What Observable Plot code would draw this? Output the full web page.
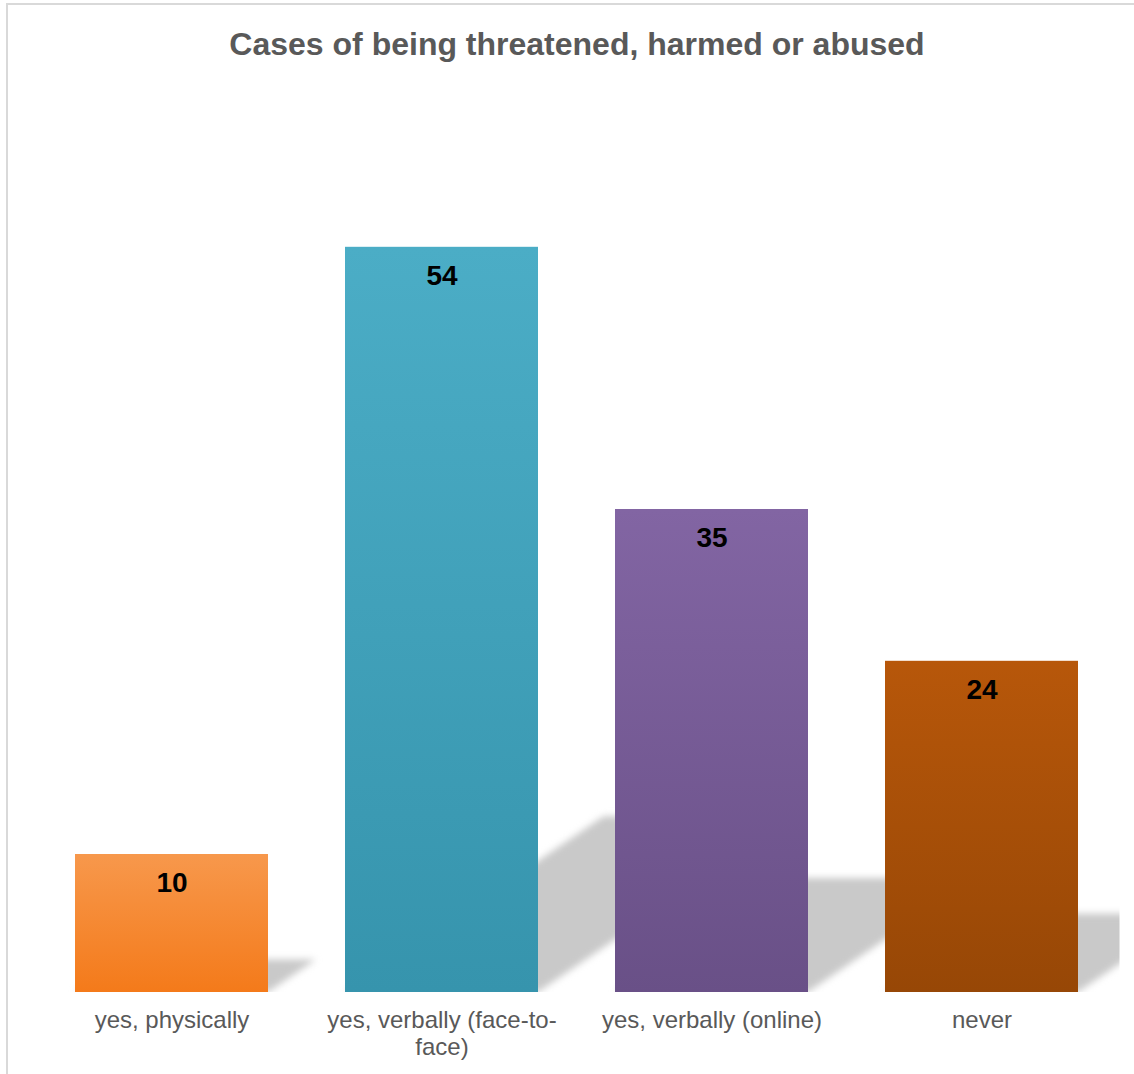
<!DOCTYPE html>
<html>
<head>
<meta charset="utf-8">
<script src="https://cdn.jsdelivr.net/npm/d3@7"></script>
<script src="https://cdn.jsdelivr.net/npm/@observablehq/plot@0.6"></script>
<style>
  html, body { margin: 0; padding: 0; background: #ffffff; width: 1134px; height: 1074px; overflow: hidden; }
  #frame { position: absolute; left: 6px; top: 3px; width: 1300px; height: 1300px; border: 2px solid #d9d9d9; box-sizing: border-box; }
  #title { position: absolute; left: 36.5px; width: 1081px; top: 28px; text-align: center;
           font-family: "Liberation Sans", Arial, sans-serif; font-weight: bold; font-size: 32px; line-height: 32px; color: #595959; }
  #chart { position: absolute; left: 0; top: 80px; }
</style>
</head>
<body>
<div id="frame"></div>
<div id="title">Cases of being threatened, harmed or abused</div>
<div id="chart"></div>
<script>
// ---- data ----
const categories = ["yes, physically", "yes, verbally (face-to-face)", "yes, verbally (online)", "never"];
const values = [10, 54, 35, 24];

// ---- styling ----
const topColors = ["#f7984c", "#4badc6", "#8265a3", "#b7570a"];
const bottomColors = ["#f47a1a", "#3694ad", "#695087", "#974706"];

const data = categories.map((c, i) => ({category: c, value: values[i], fill: `url(#grad${i})`}));

const defsMark = () => {
  const defs = d3.create("svg:defs");
  categories.forEach((c, i) => {
    const g = defs.append("linearGradient").attr("id", `grad${i}`)
      .attr("x1", 0).attr("y1", 0).attr("x2", 0).attr("y2", 1);
    g.append("stop").attr("offset", "0%").attr("stop-color", topColors[i]);
    g.append("stop").attr("offset", "100%").attr("stop-color", bottomColors[i]);
  });
  return defs.node();
};

// perspective shadow behind each bar, computed from the scales
const shadowMark = (index, scales, values_, dims) => {
  const {x, y} = scales;
  const bw = x.bandwidth();
  const g = d3.create("svg:g");
  const cp = g.append("clipPath").attr("id", "shadowclip");
  cp.append("rect")
    .attr("x", dims.marginLeft).attr("y", dims.marginTop)
    .attr("width", dims.width - dims.marginLeft - dims.marginRight + 3)
    .attr("height", dims.height - dims.marginTop - dims.marginBottom);
  const inner = g.append("g").attr("clip-path", "url(#shadowclip)")
    .append("g").style("filter", "blur(3.5px)");
  data.forEach(d => {
    const x0 = x(d.category), x1 = x0 + bw;
    const base = y(0), top = y(d.value);
    const h = base - top;
    const dy = 0.236 * h, dx = dy / 0.68;
    inner.append("path")
      .attr("d", `M${x0},${base}L${x1},${base}L${x1 + dx},${base - dy}L${x0 + dx},${base - dy}Z`)
      .attr("fill", "#c9c9c9");
  });
  return g.node();
};

const chart = Plot.plot({
  width: 1134,
  height: 994,
  marginLeft: 35.5,
  marginRight: 17.5,
  marginTop: 84,
  marginBottom: 82,
  x: {domain: categories, paddingInner: 0.286, paddingOuter: 0.143, label: null},
  y: {domain: [0, 60], axis: null},
  color: {type: "identity"},
  style: {fontFamily: "'Liberation Sans', Arial, sans-serif", background: "transparent", overflow: "visible"},
  marks: [
    defsMark,
    shadowMark,
    Plot.barY(data, {x: "category", y: "value", fill: "fill"}),
    Plot.text(data, {x: "category", y: "value", text: d => String(d.value), dy: 29,
      fontSize: 28, fontWeight: "bold", fill: "#000000"}),
    Plot.axisX({tickSize: 0, tickPadding: 16, fontSize: 24, color: "#595959", lineHeight: 1.125,
      label: null, tickFormat: d => d.replace("to-face", "to-\nface")})
  ]
});
document.getElementById("chart").appendChild(chart);
</script>
</body>
</html>
